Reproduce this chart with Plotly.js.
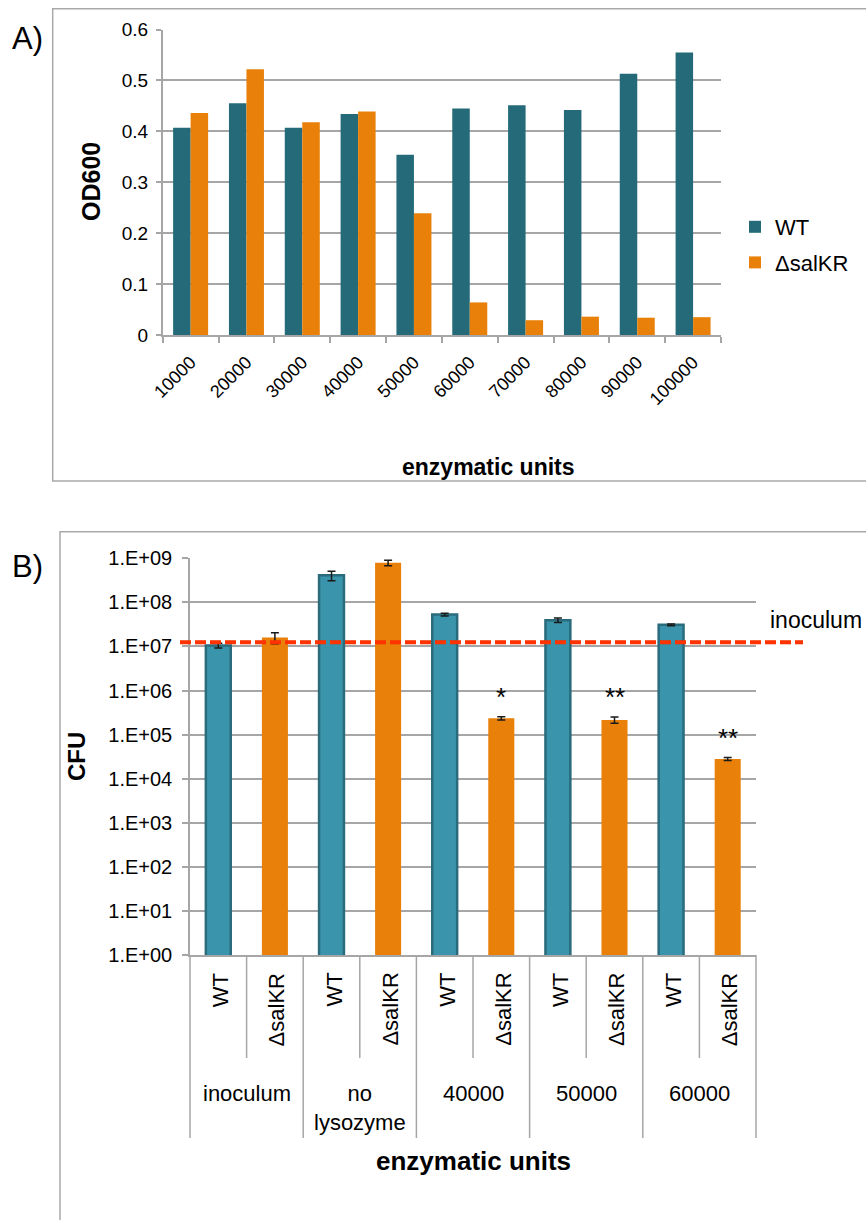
<!DOCTYPE html>
<html>
<head>
<meta charset="utf-8">
<script src="https://cdn.plot.ly/plotly-3.0.1.min.js"></script>
<style>
html, body { margin: 0; padding: 0; background: #ffffff; }
#chart { width: 866px; height: 1220px; }
</style>
</head>
<body>
<div id="chart"></div>
<script>
// ---------- Panel A data ----------
const unitsA = ['10000', '20000', '30000', '40000', '50000', '60000', '70000', '80000', '90000', '100000'];
const od600WT = [0.407, 0.455, 0.407, 0.434, 0.354, 0.445, 0.451, 0.442, 0.513, 0.555];
const od600KO = [0.436, 0.522, 0.418, 0.439, 0.239, 0.064, 0.029, 0.036, 0.034, 0.035];
const seriesNames = ['WT', 'ΔsalKR'];
const yTicksA = [0, 0.1, 0.2, 0.3, 0.4, 0.5, 0.6];

// ---------- Panel B data ----------
const groupsB = ['inoculum', 'no<br>lysozyme', '40000', '50000', '60000'];
const cfuWT = [1.05e7, 4.1e8, 5.3e7, 3.95e7, 3.1e7];
const cfuWTErr = [0.13e7, 1.0e8, 0.4e7, 0.45e7, 0.15e7];
const cfuKO = [1.6e7, 7.9e8, 2.35e5, 2.15e5, 2.8e4];
const cfuKOErr = [0.45e7, 1.1e8, 0.2e5, 0.35e5, 0.22e4];
const significance = ['', '', '*', '**', '**'];
const inoculumLevel = 1.25e7;
const yTickValsB = [1, 1e1, 1e2, 1e3, 1e4, 1e5, 1e6, 1e7, 1e8, 1e9];
const yTickTextB = ['1.E+00', '1.E+01', '1.E+02', '1.E+03', '1.E+04', '1.E+05', '1.E+06', '1.E+07', '1.E+08', '1.E+09'];

// ---------- styling ----------
const W = 866, H = 1220;
const fx = p => p / W;
const fy = p => 1 - p / H;
const FONT = 'Liberation Sans, Arial, Helvetica, sans-serif';
const cWTa = '#256a79';
const cKO = '#e98009';
const cWTb = '#3a94ab';
const cWTbLine = '#2a6b7c';
const gridC = '#a6a6a6';

// category keys for panel B
const keyOf = (g, s) => g.replace('<br>', ' ') + ' | ' + s;
const catWT = groupsB.map(g => keyOf(g, seriesNames[0]));
const catKO = groupsB.map(g => keyOf(g, seriesNames[1]));
const catAll = [];
groupsB.forEach((g, i) => { catAll.push(catWT[i]); catAll.push(catKO[i]); });

const traces = [
  { type: 'bar', name: seriesNames[0], x: unitsA, y: od600WT, xaxis: 'x', yaxis: 'y',
    marker: { color: cWTa }, legendgroup: 'wt', hoverinfo: 'skip' },
  { type: 'bar', name: seriesNames[1], x: unitsA, y: od600KO, xaxis: 'x', yaxis: 'y',
    marker: { color: cKO }, legendgroup: 'ko', hoverinfo: 'skip' },
  { type: 'bar', name: seriesNames[0] + ' CFU', x: catWT, y: cfuWT, xaxis: 'x2', yaxis: 'y2',
    width: 0.44, offset: -0.22, showlegend: false, hoverinfo: 'skip',
    marker: { color: cWTb, line: { color: cWTbLine, width: 2.5 } },
    error_y: { type: 'data', array: cfuWTErr, visible: true, color: '#1a1a1a', thickness: 1.5, width: 4 } },
  { type: 'bar', name: seriesNames[1] + ' CFU', x: catKO, y: cfuKO, xaxis: 'x2', yaxis: 'y2',
    width: 0.46, offset: -0.23, showlegend: false, hoverinfo: 'skip',
    marker: { color: cKO, line: { width: 0 } },
    error_y: { type: 'data', array: cfuKOErr, visible: true, color: '#1a1a1a', thickness: 1.5, width: 4 } }
];

const annotations = [];
const shapes = [];
const txt = (o) => Object.assign({ showarrow: false, xanchor: 'center', yanchor: 'middle' }, o);

// panel labels
annotations.push(txt({ text: 'A)', xref: 'paper', yref: 'paper', x: fx(10), y: fy(38), xanchor: 'left',
  font: { size: 31, color: '#000' } }));
annotations.push(txt({ text: 'B)', xref: 'paper', yref: 'paper', x: fx(10), y: fy(566), xanchor: 'left',
  font: { size: 31, color: '#000' } }));

// axis titles
annotations.push(txt({ text: '<b>OD600</b>', xref: 'paper', yref: 'paper', x: fx(91), y: fy(182), textangle: -90,
  font: { size: 25, color: '#000' } }));
annotations.push(txt({ text: '<b>enzymatic units</b>', xref: 'paper', yref: 'paper', x: fx(488), y: fy(467),
  font: { size: 23, color: '#000' } }));
annotations.push(txt({ text: '<b>CFU</b>', xref: 'paper', yref: 'paper', x: fx(77), y: fy(757), textangle: -90,
  font: { size: 24, color: '#000' } }));
annotations.push(txt({ text: '<b>enzymatic units</b>', xref: 'x2 domain', yref: 'paper', x: 0.5, y: fy(1161),
  font: { size: 26, color: '#000' } }));

// strain labels + group labels + significance
groupsB.forEach((g, i) => {
  [catWT[i], catKO[i]].forEach((c, j) => {
    annotations.push(txt({ text: seriesNames[j], xref: 'x2', yref: 'paper', x: c, y: fy(971), yanchor: 'top',
      textangle: -90, xshift: 2, font: { size: 22, color: '#000' } }));
  });
  annotations.push(txt({ text: g, xref: 'x2 domain', yref: 'paper', x: (2 * i + 1) / (2 * groupsB.length), y: fy(1079),
    yanchor: 'top', font: { size: 22, color: '#000' } }));
  if (significance[i]) {
    annotations.push(txt({ text: significance[i], xref: 'x2', yref: 'y2', x: catKO[i],
      y: Math.log10(cfuKO[i] + cfuKOErr[i]), yanchor: 'bottom', yshift: 3,
      font: { size: 26, color: '#000' } }));
  }
  // inner dividers
  shapes.push({ type: 'line', xref: 'x2 domain', yref: 'paper', x0: (2 * i + 1) / (2 * groupsB.length), x1: (2 * i + 1) / (2 * groupsB.length),
    y0: fy(955), y1: fy(1058), line: { color: gridC, width: 1.5 } });
});
// outer dividers
for (let i = 0; i <= groupsB.length; i++) {
  shapes.push({ type: 'line', xref: 'x2 domain', yref: 'paper', x0: i / groupsB.length, x1: i / groupsB.length,
    y0: fy(955), y1: fy(1138), line: { color: gridC, width: 1.5 } });
}

// inoculum line (with faint shadow)
shapes.push({ type: 'line', xref: 'paper', yref: 'y2', x0: fx(180), x1: fx(803), ysizemode: 'pixel', yanchor: inoculumLevel,
  y0: -3, y1: -3, line: { color: 'rgba(0,0,0,0.13)', width: 4, dash: '11px,4px' } });
shapes.push({ type: 'line', xref: 'paper', yref: 'y2', x0: fx(180), x1: fx(803), y0: inoculumLevel, y1: inoculumLevel,
  line: { color: '#ff3300', width: 4, dash: '11px,4px' } });
annotations.push(txt({ text: 'inoculum', xref: 'paper', yref: 'y2', x: fx(768), y: Math.log10(inoculumLevel), yshift: 22,
  xanchor: 'left', font: { size: 23, color: '#000' } }));

// panel frames
shapes.push({ type: 'rect', xref: 'paper', yref: 'paper', x0: fx(52.7), x1: fx(900), y0: fy(481), y1: fy(8.7),
  line: { color: '#a9a9a9', width: 1.5 }, fillcolor: 'rgba(0,0,0,0)', layer: 'below' });
shapes.push({ type: 'rect', xref: 'paper', yref: 'paper', x0: fx(60), x1: fx(900), y0: fy(1260), y1: fy(531.7),
  line: { color: '#a9a9a9', width: 1.5 }, fillcolor: 'rgba(0,0,0,0)', layer: 'below' });

const layout = {
  width: W, height: H,
  margin: { l: 0, r: 0, t: 0, b: 0, pad: 0 },
  paper_bgcolor: '#ffffff', plot_bgcolor: 'rgba(0,0,0,0)',
  font: { family: FONT, color: '#000' },
  barmode: 'group', bargap: 0.373, bargroupgap: 0,
  showlegend: true,
  legend: { x: fx(735), y: fy(206), xanchor: 'left', yanchor: 'top', font: { size: 22, color: '#000' },
    tracegroupgap: 4, bgcolor: 'rgba(0,0,0,0)', itemwidth: 30 },
  xaxis: { domain: [fx(162.7), fx(721)], anchor: 'y', type: 'category', tickangle: -45,
    tickfont: { size: 18, color: '#000' }, ticks: 'outside', tickson: 'boundaries', ticklen: 6, tickcolor: gridC,
    tickwidth: 1.5, showline: true, linecolor: gridC, linewidth: 1.5, showgrid: false, ticklabelstandoff: 8,
    automargin: false, fixedrange: true },
  yaxis: { domain: [fy(335), fy(29.5)], anchor: 'x', range: [0, 0.6], tickvals: yTicksA,
    tickfont: { size: 19, color: '#000' }, showgrid: true, gridcolor: gridC, gridwidth: 1.5, showline: true,
    linecolor: gridC, linewidth: 1.5, ticks: 'outside', ticklen: 5, tickcolor: gridC, tickwidth: 1.5,
    zeroline: false, automargin: false, fixedrange: true, ticklabelstandoff: 4 },
  xaxis2: { domain: [fx(190), fx(756)], anchor: 'y2', type: 'category', categoryorder: 'array', categoryarray: catAll,
    range: [-0.5, catAll.length - 0.5], showticklabels: false, ticks: '', showline: true, linecolor: gridC,
    linewidth: 1.5, showgrid: false, automargin: false, fixedrange: true },
  yaxis2: { domain: [fy(955), fy(558.3)], anchor: 'x2', type: 'log', range: [0, 9], tickvals: yTickValsB,
    ticktext: yTickTextB, tickfont: { size: 20, color: '#000' }, showgrid: true, gridcolor: gridC, gridwidth: 1.5,
    showline: true, linecolor: gridC, linewidth: 1.5, ticks: 'outside', ticklen: 6, tickcolor: gridC, tickwidth: 1.5,
    zeroline: false, automargin: false, fixedrange: true, ticklabelstandoff: 6 },
  annotations: annotations,
  shapes: shapes
};

Plotly.newPlot('chart', traces, layout, { displayModeBar: false, responsive: false });
</script>
</body>
</html>
